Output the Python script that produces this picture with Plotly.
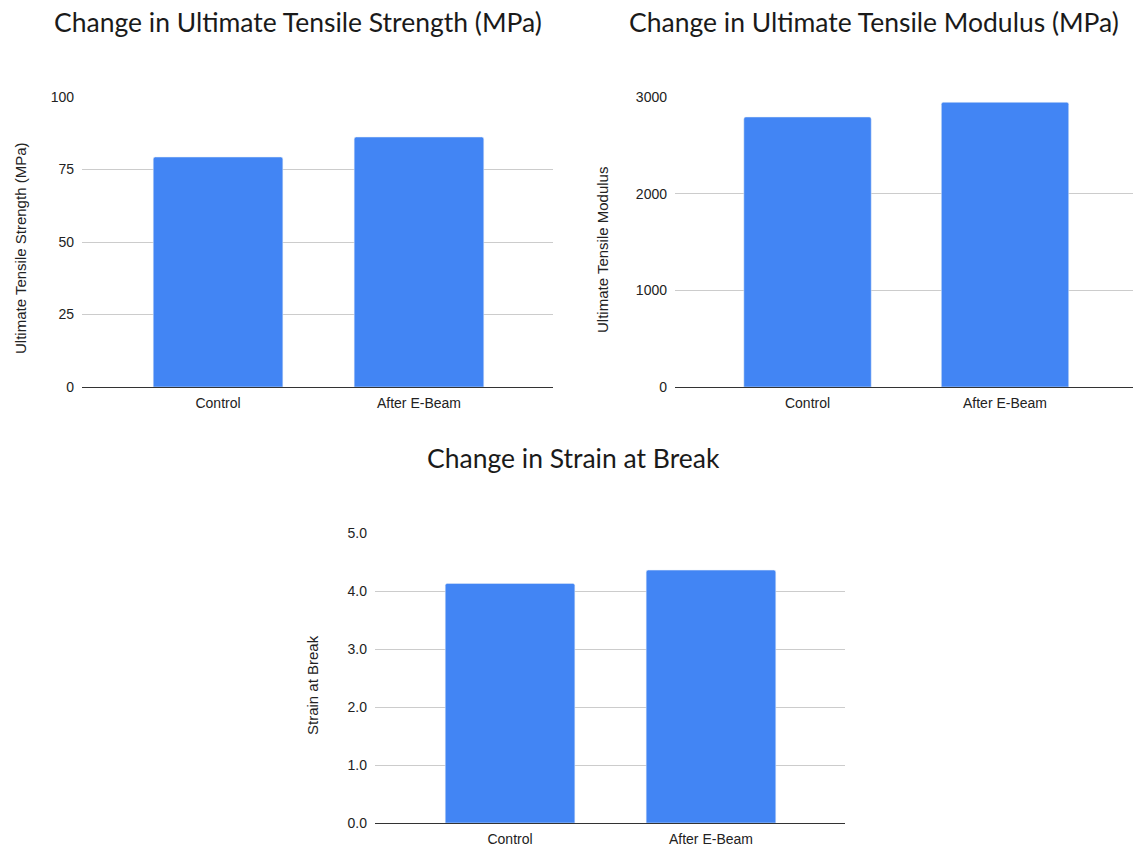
import plotly.graph_objects as go

categories = ["Control", "After E-Beam"]
uts_values = [79.3, 86.2]
utm_values = [2793, 2945]
strain_values = [4.13, 4.36]

titles = ["Change in Ultimate Tensile Strength (MPa)",
          "Change in Ultimate Tensile Modulus (MPa)",
          "Change in Strain at Break"]
y_titles = ["Ultimate Tensile Strength (MPa)", "Ultimate Tensile Modulus", "Strain at Break"]
y_ranges = [[0, 100], [0, 3000], [0, 5]]
y_ticks = [[0, 25, 50, 75, 100], [0, 1000, 2000, 3000], [0, 1, 2, 3, 4, 5]]
y_ticktext = [["0", "25", "50", "75", "100"], ["0", "1000", "2000", "3000"],
              ["0.0", "1.0", "2.0", "3.0", "4.0", "5.0"]]

W, H = 1133, 846
BLUE = "#4285F4"
TICKFONT = dict(family="Liberation Sans, Arial", size=14, color="#222222")
YTITLEFONT = dict(family="Liberation Sans, Arial", size=15, color="#222222")

fig = go.Figure()

# panel geometry in pixels: (x0, x1, ytop, ybottom, xrange)
panels = [
    (82, 553, 97, 387, [-0.677, 1.667]),
    (675, 1133, 97, 387, [-0.671, 1.648]),
    (375, 845, 533, 823, [-0.672, 1.667]),
]
series = [uts_values, utm_values, strain_values]

for i, (x0, x1, yt, yb, xr) in enumerate(panels):
    n = "" if i == 0 else str(i + 1)
    fig.add_trace(go.Bar(x=categories, y=series[i], marker_color=BLUE, width=0.645,
                         xaxis="x" + n, yaxis="y" + n, showlegend=False))
    fig.update_layout(**{
        "xaxis" + n: dict(domain=[x0 / W, x1 / W], range=xr, anchor="y" + n,
                          showline=True, linecolor="#333333", linewidth=1,
                          showgrid=False, ticks="", fixedrange=True,
                          ticklabelstandoff=3,
                          tickfont=TICKFONT),
        "yaxis" + n: dict(domain=[1 - yb / H, 1 - yt / H], range=y_ranges[i], anchor="x" + n,
                          tickvals=y_ticks[i], ticktext=y_ticktext[i],
                          showgrid=True, gridcolor="#cccccc", gridwidth=1,
                          zeroline=False, showline=False, ticks="",
                          ticklabelstandoff=7, fixedrange=True,
                          tickfont=TICKFONT),
    })

annotations = [
    dict(text=titles[0], x=298 / W, y=1 - 22 / H),
    dict(text=titles[1], x=874 / W, y=1 - 22 / H),
    dict(text=titles[2], x=573.5 / W, y=1 - 458 / H),
]
for a in annotations:
    a.update(xref="paper", yref="paper", showarrow=False, xanchor="center", yanchor="middle",
             font=dict(family="Lato", size=26.5, color="#1a1a1a"))

ytitle_pos = [(20, 249), (603, 250), (312, 685)]
for t, (px, py) in zip(y_titles, ytitle_pos):
    annotations.append(dict(text=t, x=px / W, y=1 - py / H, xref="paper", yref="paper",
                            showarrow=False, textangle=-90, xanchor="center", yanchor="middle",
                            font=YTITLEFONT))

fig.update_layout(
    width=W, height=H,
    margin=dict(l=0, r=0, t=0, b=0, autoexpand=False),
    paper_bgcolor="white", plot_bgcolor="white",
    annotations=annotations,
    barcornerradius=2,
)

post = ("document.documentElement.style.margin='0';document.body.style.margin='0';"
        "document.body.style.overflow='hidden';"
        "var d=document.getElementById('{plot_id}');"
        "d.style.position='fixed';d.style.top='0px';d.style.left='0px';")

fig.write_html("out.html", config={"displayModeBar": False}, post_script=post)
